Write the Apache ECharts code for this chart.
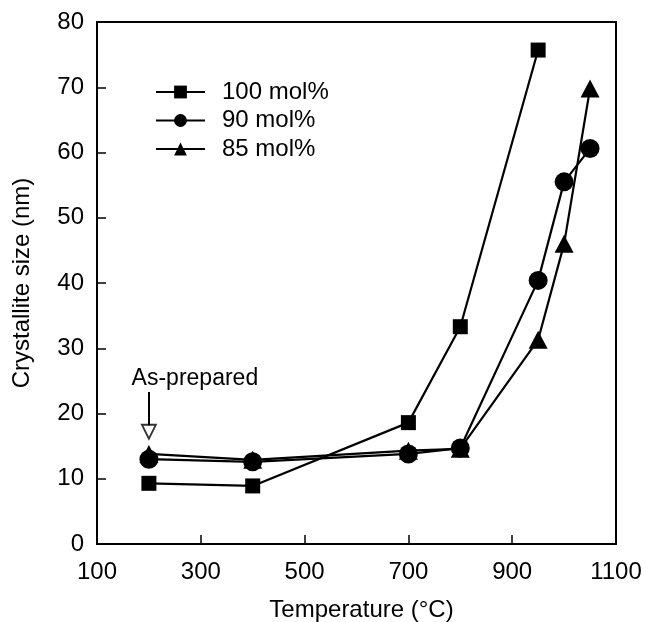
<!DOCTYPE html>
<html><head><meta charset="utf-8">
<script src="https://cdn.jsdelivr.net/npm/echarts@6/dist/echarts.min.js"></script>
<style>html,body{margin:0;padding:0;background:#fff}#c{width:645px;height:622px}</style>
</head><body><div id="c"></div>
<script>
const temps100 = [200, 400, 700, 800, 950];
const size100 = [9.3, 8.9, 18.6, 33.3, 75.7];
const temps90 = [200, 400, 700, 800, 950, 1000, 1050];
const size90 = [13.0, 12.6, 13.8, 14.7, 40.4, 55.5, 60.6];
const temps85 = [200, 400, 700, 800, 950, 1000, 1050];
const size85 = [13.8, 12.9, 14.3, 14.6, 31.3, 46.0, 69.8];
const seriesNames = ['100 mol%', '90 mol%', '85 mol%'];
const annotText = 'As-prepared';
const annotX = 200;
const arrowFrom = 23.3;
const arrowTo = 18.2;
const arrowHead = 17.2;
const xTicks = [100, 300, 500, 700, 900, 1100];

const zip = (a, b) => a.map((v, i) => [v, b[i]]);
const font = 'Liberation Sans';
const chart = echarts.init(document.getElementById('c'), null, {renderer: 'canvas'});
const lineCommon = {
  type: 'line', color: '#000',
  lineStyle: {color: '#000', width: 2.2},
  itemStyle: {color: '#000'},
  symbolKeepAspect: true, animation: false, z: 3
};
chart.setOption({
  animation: false,
  backgroundColor: '#fff',
  grid: {left: 97, right: 29, top: 22, bottom: 78, containLabel: false, outerBoundsMode: 'none',
    show: true, borderColor: '#000', borderWidth: 2, backgroundColor: 'transparent'},
  legend: {
    left: 150, top: 75, orient: 'vertical', itemWidth: 49, itemHeight: 16, itemGap: 4.5,
    textStyle: {fontFamily: font, fontSize: 24, color: '#000', padding: [0, 0, 0, 12]},
    data: seriesNames
  },
  xAxis: {
    type: 'value', min: 100, max: 1100, interval: 200,
    name: 'Temperature (°C)', nameLocation: 'middle', nameGap: 54,
    nameTextStyle: {fontFamily: font, fontSize: 24, color: '#000', padding: [0, 0, 0, 10]},
    axisLine: {show: true, lineStyle: {color: '#000', width: 2}},
    axisTick: {show: true, inside: true, length: 9, lineStyle: {color: '#000', width: 1.5}},
    axisLabel: {fontFamily: font, fontSize: 24, color: '#000', margin: 16,
      formatter: v => xTicks.includes(v) ? String(v) : ''},
    splitLine: {show: false}
  },
  yAxis: {
    type: 'value', min: 0, max: 80, interval: 10,
    name: 'Crystallite size (nm)', nameLocation: 'middle', nameGap: 63,
    nameTextStyle: {fontFamily: font, fontSize: 24, color: '#000'},
    axisLine: {show: true, lineStyle: {color: '#000', width: 2}},
    axisTick: {show: true, inside: true, length: 9, lineStyle: {color: '#000', width: 1.5}},
    axisLabel: {fontFamily: font, fontSize: 24, color: '#000', margin: 13},
    splitLine: {show: false}
  },
  series: [
    Object.assign({}, lineCommon, {name: seriesNames[0], data: zip(temps100, size100), symbol: 'rect', symbolSize: 15}),
    Object.assign({}, lineCommon, {name: seriesNames[1], data: zip(temps90, size90), symbol: 'circle', symbolSize: 19}),
    Object.assign({}, lineCommon, {name: seriesNames[2], data: zip(temps85, size85), symbol: 'triangle', symbolSize: [19, 18]}),
    {
      type: 'scatter', name: 'annot', data: [[annotX, arrowHead]],
      symbol: 'triangle', symbolRotate: 180, symbolSize: [14, 14],
      itemStyle: {color: '#fff', borderColor: '#000', borderWidth: 1.8},
      silent: true, z: 4,
      markLine: {
        silent: true, symbol: ['none', 'none'],
        lineStyle: {color: '#000', width: 2, type: 'solid'},
        label: {show: true, position: 'start', formatter: annotText, fontFamily: font, fontSize: 23, color: '#000', offset: [46, 0], distance: 2},
        data: [[{coord: [annotX, arrowFrom]}, {coord: [annotX, arrowTo]}]]
      }
    }
  ]
});
</script></body></html>
